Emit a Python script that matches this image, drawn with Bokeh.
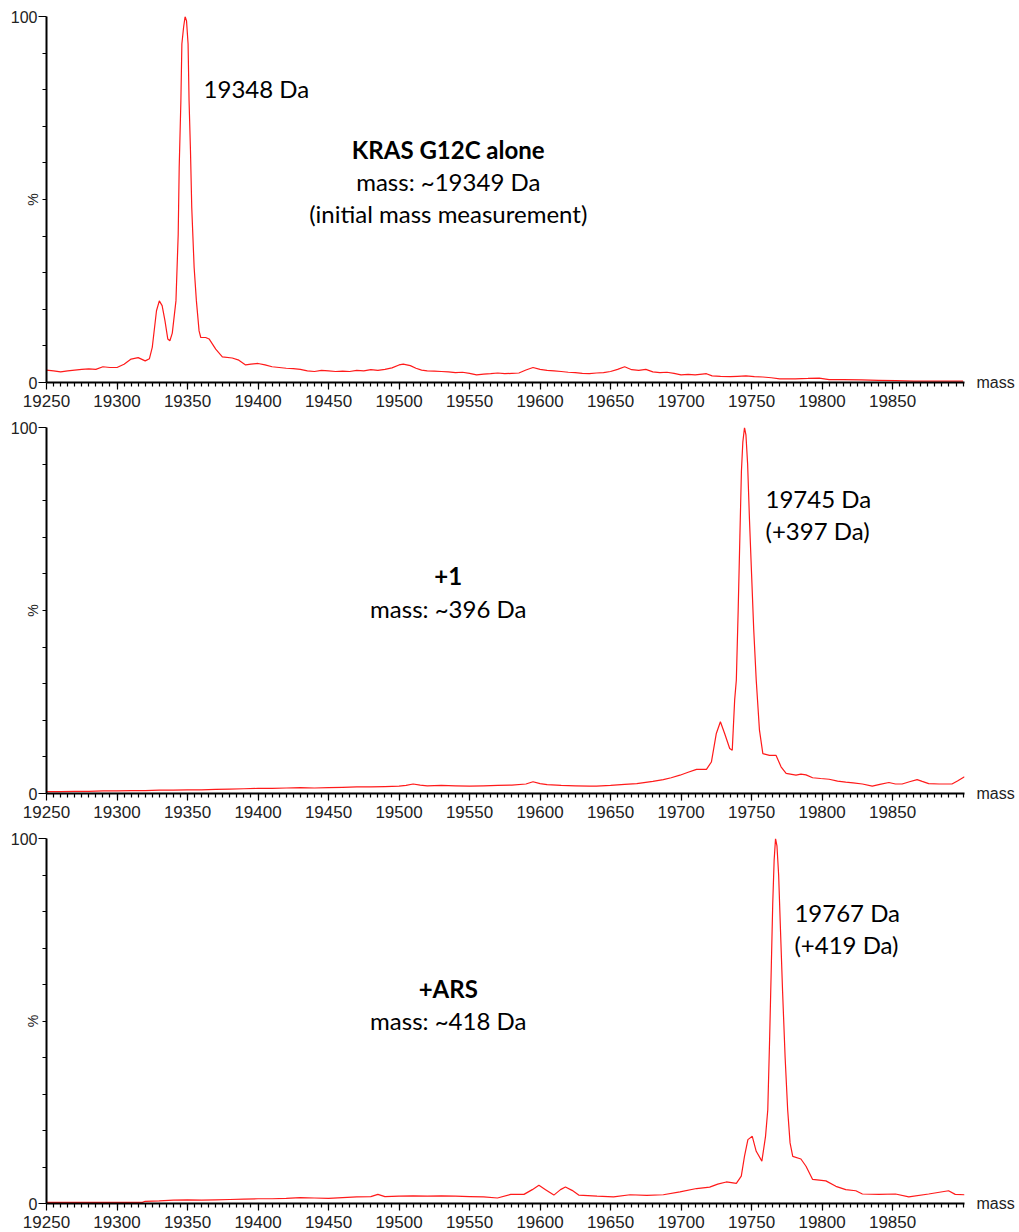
import math
from bokeh.plotting import figure
from bokeh.layouts import column
from bokeh.models import Range1d, FixedTicker, Label, ColumnDataSource, LinearAxis
from bokeh.embed import file_html
from bokeh.resources import INLINE

# ---------------- data ----------------
mass1 = [19250, 19255, 19260, 19265, 19270, 19275, 19280, 19285, 19290, 19295, 19300, 19305, 19310, 19315,
         19320, 19323, 19325, 19328, 19330, 19332, 19334, 19336, 19337.5, 19339.2, 19341.8, 19343.4, 19344.1,
         19345.3, 19346.0, 19347.2, 19348.3, 19349.3, 19350.4, 19351.1, 19352.1, 19353.0, 19354.7, 19356.3,
         19358.2, 19359.4, 19362.9, 19365.3, 19370, 19374.7, 19381.7, 19386.4, 19391.2, 19395, 19400, 19405,
         19410, 19415, 19420, 19425, 19430, 19435, 19440, 19445, 19450, 19455, 19460, 19465, 19470, 19475,
         19480, 19485, 19490, 19495, 19500, 19503, 19508, 19512, 19516, 19520, 19525, 19530, 19535, 19540,
         19545, 19550, 19555, 19560, 19565, 19570, 19575, 19580, 19585, 19590, 19595, 19600, 19605, 19610,
         19615, 19620, 19625, 19630, 19635, 19640, 19645, 19650, 19655, 19660, 19665, 19670, 19675, 19680,
         19685, 19690, 19695, 19700, 19705, 19710, 19715, 19718, 19722, 19728, 19735, 19740, 19746, 19752,
         19758, 19764, 19770, 19775, 19781, 19790, 19798, 19805, 19815, 19828, 19840, 19852, 19865, 19876,
         19890, 19900]
int1 = [3.4, 3.2, 2.9, 3.2, 3.4, 3.6, 3.7, 3.6, 4.3, 4.1, 4.1, 5.0, 6.4, 6.8,
        5.9, 6.5, 9.6, 19.6, 22.3, 21.0, 16.9, 11.9, 11.4, 13.5, 22.3, 40.5, 58.7,
        77.0, 92.5, 97.0, 100, 98.8, 92.5, 77.0, 63.3, 47.8, 31.4, 22.3,
        14.1, 12.3, 12.3, 11.9, 9.1, 7.0, 6.7, 6.1, 4.8, 5.0, 5.2, 4.8,
        4.3, 4.1, 3.9, 3.8, 3.6, 3.2, 3.0, 3.3, 3.2, 3.0, 3.1, 3.0, 3.3, 3.2,
        3.5, 3.3, 3.6, 4.0, 4.8, 5.0, 4.6, 3.9, 3.4, 3.2, 3.1, 3.0, 2.9, 2.7,
        2.8, 2.5, 2.1, 2.3, 2.4, 2.6, 2.4, 2.5, 2.6, 3.4, 4.1, 3.6, 3.3, 3.2,
        3.0, 2.8, 2.7, 2.5, 2.4, 2.6, 2.7, 3.0, 3.6, 4.3, 3.5, 3.3, 3.6, 2.9,
        2.7, 2.8, 2.5, 2.1, 2.2, 2.1, 2.3, 2.4, 1.8, 1.7, 1.6, 1.7, 1.8, 1.6,
        1.5, 1.3, 1.0, 1.0, 1.0, 1.1, 1.2, 0.8, 0.8, 0.7, 0.6, 0.5, 0.4, 0.4,
        0.4, 0.4]

mass2 = [19250, 19260, 19270, 19280, 19290, 19300, 19310, 19320, 19330, 19340, 19350, 19360, 19370, 19380,
         19390, 19400, 19410, 19420, 19430, 19440, 19450, 19460, 19470, 19480, 19490, 19500, 19505, 19510,
         19515, 19520, 19530, 19540, 19550, 19560, 19570, 19580, 19590, 19595, 19600, 19605, 19615, 19625,
         19635, 19640, 19650, 19660, 19668.6, 19680, 19687.4, 19693, 19699.2, 19705, 19711, 19718, 19721.5,
         19725, 19727.9, 19730.9, 19734.5, 19736.3, 19738, 19739.2, 19740.5, 19741.7, 19742.8, 19743.8,
         19745, 19746, 19747.2, 19748.5, 19750, 19751.5, 19753.3, 19755.6, 19758, 19762.7, 19767.4,
         19770.9, 19774.5, 19781.5, 19785, 19788.6, 19793.3, 19799, 19805, 19811, 19816.8, 19822,
         19828.6, 19835.6, 19841, 19847.4, 19852, 19856.8, 19862, 19867.4, 19871, 19875.6, 19883,
         19892.1, 19896, 19901]
int2 = [0.5, 0.5, 0.6, 0.6, 0.7, 0.7, 0.8, 0.8, 0.9, 0.9, 1.0, 1.0, 1.1, 1.2,
        1.3, 1.4, 1.4, 1.5, 1.6, 1.5, 1.6, 1.7, 1.8, 1.8, 1.9, 2.0, 2.2, 2.6,
        2.3, 2.1, 2.2, 2.1, 2.0, 2.1, 2.2, 2.3, 2.6, 3.2, 2.7, 2.4, 2.2, 2.1,
        2.0, 2.0, 2.2, 2.5, 2.7, 3.3, 3.8, 4.3, 5.0, 5.8, 6.6, 6.6, 8.6,
        16.4, 19.6, 16.4, 12.3, 11.8, 25.5, 31, 50, 70, 88, 96,
        100, 98, 90, 75, 60, 45, 31, 17.3, 10.9, 10.4, 10.4,
        7.3, 5.5, 5.0, 5.3, 5.1, 4.3, 4.1, 3.9, 3.4, 3.1, 2.9,
        2.6, 2.0, 2.5, 3.0, 2.6, 2.6, 3.2, 3.8, 3.3, 2.7, 2.6,
        2.6, 3.4, 4.6]

mass3 = [19250, 19260, 19270, 19280, 19290, 19300, 19310, 19318, 19320, 19330, 19340, 19350, 19360, 19370,
         19380, 19390, 19400, 19410, 19420, 19430, 19440, 19450, 19460, 19470, 19480, 19485, 19490, 19500,
         19510, 19520, 19530, 19540, 19550, 19560, 19569.8, 19579.2, 19588.6, 19594.5, 19599.2, 19603.9,
         19609.8, 19614.5, 19618, 19622.7, 19627.4, 19640.4, 19652.1, 19663.9, 19675.7, 19687.4, 19699.2,
         19711, 19720.3, 19726, 19732.1, 19739.2, 19742.7, 19745, 19747.4, 19750.5, 19753.3, 19757.3,
         19759.9, 19761.5, 19762.8, 19764, 19765, 19766, 19767, 19768, 19769.2, 19770.5, 19772, 19773.8,
         19775.6, 19777.3, 19779.2, 19785, 19788.6, 19793.3, 19802.7, 19809.8, 19816.8, 19823.9, 19828.6,
         19840.4, 19852.1, 19861.5, 19875.6, 19889.7, 19894.4, 19901]
int3 = [0.3, 0.3, 0.3, 0.3, 0.3, 0.3, 0.3, 0.3, 0.6, 0.7, 0.9, 1.0, 0.9, 1.0,
        1.1, 1.2, 1.3, 1.3, 1.4, 1.6, 1.5, 1.4, 1.6, 1.8, 1.9, 2.5, 1.9, 2.0,
        2.1, 2.0, 2.1, 2.0, 1.9, 1.8, 1.5, 2.5, 2.5, 3.8, 5.0, 3.8,
        2.3, 3.8, 4.5, 3.6, 2.3, 2.0, 1.8, 2.4, 2.2, 2.4, 3.2,
        4.1, 4.5, 5.3, 5.9, 5.5, 7.5, 13, 17.5, 18.4, 14.3, 11.6,
        18.4, 25.7, 45, 65, 82, 94, 100, 98, 90, 75, 58, 40,
        25.7, 16.6, 12.9, 12.2, 10.2, 6.6, 6.2, 4.7, 3.8, 3.5, 2.6,
        2.5, 2.6, 1.8, 2.6, 3.5, 2.5, 2.4]

x_major = [19250, 19300, 19350, 19400, 19450, 19500, 19550, 19600, 19650, 19700, 19750, 19800, 19850]
y_major = [0, 100]

peak_labels = [["19348 Da"], ["19745 Da", "(+397 Da)"], ["19767 Da", "(+419 Da)"]]
titles = ["KRAS G12C alone", "+1", "+ARS"]
subtitles = [["mass: ~19349 Da", "(initial mass measurement)"], ["mass: ~396 Da"], ["mass: ~418 Da"]]

# ---------------- styling / layout ----------------
X0, X1 = 19250, 19901
ANN_FONT = "Lato"
TICK_FONT = "Liberation Sans"
x_minor = [X0 + 5 * i for i in range(1, int((X1 - X0) / 5) + 1)]
y_minor = [10, 20, 30, 40, 50, 60, 70, 80, 90]

peak_pos = [(19361.4, 80.3), (19759.9, 80.6), (19780.4, 79.8)]
title_pos = [(19534.9, 63.7), (19534.9, 59.3), (19534.9, 59.0)]
line_step = 8.75

series = [(mass1, int1), (mass2, int2), (mass3, int3)]
heights = [411, 411, 408]
borders_bottom = [29, 29, 26]

figs = []
for i, (m, v) in enumerate(series):
    p = figure(width=1017, height=heights[i], output_backend="svg", toolbar_location=None,
               x_range=Range1d(X0, X1), y_range=Range1d(0, 100),
               min_border_left=46, min_border_right=48, min_border_top=16,
               min_border_bottom=borders_bottom[i])
    p.outline_line_color = None
    p.xgrid.visible = False
    p.ygrid.visible = False
    p.background_fill_color = "white"

    src = ColumnDataSource(dict(mass=m, intensity=v))
    p.line("mass", "intensity", source=src, line_color="#ff1a1a", line_width=1.2)

    xa = p.xaxis[0]
    xa.ticker = FixedTicker(ticks=x_major, minor_ticks=x_minor)
    xa.axis_line_width = 2
    xa.axis_line_color = "black"
    xa.major_tick_out = 7
    xa.major_tick_in = 0
    xa.minor_tick_out = 4
    xa.minor_tick_in = 0
    xa.major_tick_line_width = 1.2
    xa.minor_tick_line_width = 1.2
    xa.major_label_text_font = TICK_FONT
    xa.major_label_text_font_size = "17px"
    xa.major_label_text_color = "#222222"
    xa.major_label_standoff = 5

    ya = p.yaxis[0]
    ya.ticker = FixedTicker(ticks=y_major, minor_ticks=y_minor)
    ya.axis_line_width = 2
    ya.axis_line_color = "black"
    ya.major_tick_out = 8
    ya.major_tick_in = 0
    ya.minor_tick_out = 4
    ya.minor_tick_in = 0
    ya.major_tick_line_width = 1.2
    ya.minor_tick_line_width = 1.2
    ya.major_label_text_font = TICK_FONT
    ya.major_label_text_font_size = "16px"
    ya.major_label_text_color = "#222222"
    ya.major_label_standoff = 1
    ya.axis_label = "%"
    ya.axis_label_text_font = TICK_FONT
    ya.axis_label_text_font_size = "14px"
    ya.axis_label_text_font_style = "normal"
    ya.axis_label_text_color = "#222222"
    ya.axis_label_standoff = -33

    # "mass" caption at the right end of the mass axis (a label-only right axis at 0)
    cap = LinearAxis(ticker=FixedTicker(ticks=[0]), major_label_overrides={0: "mass"},
                     axis_line_color=None, major_tick_line_color=None,
                     minor_tick_line_color=None, major_label_standoff=6,
                     major_label_text_font=TICK_FONT, major_label_text_font_size="16px",
                     major_label_text_color="#222222")
    p.add_layout(cap, "right")

    px, py = peak_pos[i]
    for j, t in enumerate(peak_labels[i]):
        p.add_layout(Label(x=px, y=py - j * line_step, text=t, text_align="left",
                           text_baseline="middle", text_font=ANN_FONT,
                           text_font_size="24px", text_color="black"))
    tx, ty = title_pos[i]
    p.add_layout(Label(x=tx, y=ty, text=titles[i], text_align="center", text_baseline="middle",
                       text_font=ANN_FONT, text_font_style="bold",
                       text_font_size="24px", text_color="black"))
    for j, t in enumerate(subtitles[i]):
        p.add_layout(Label(x=tx, y=ty - (j + 1) * line_step, text=t, text_align="center",
                           text_baseline="middle", text_font=ANN_FONT,
                           text_font_size="24px", text_color="black"))
    figs.append(p)

layout = column(*figs, spacing=0)
open("out.html", "w").write(file_html(layout, INLINE))
